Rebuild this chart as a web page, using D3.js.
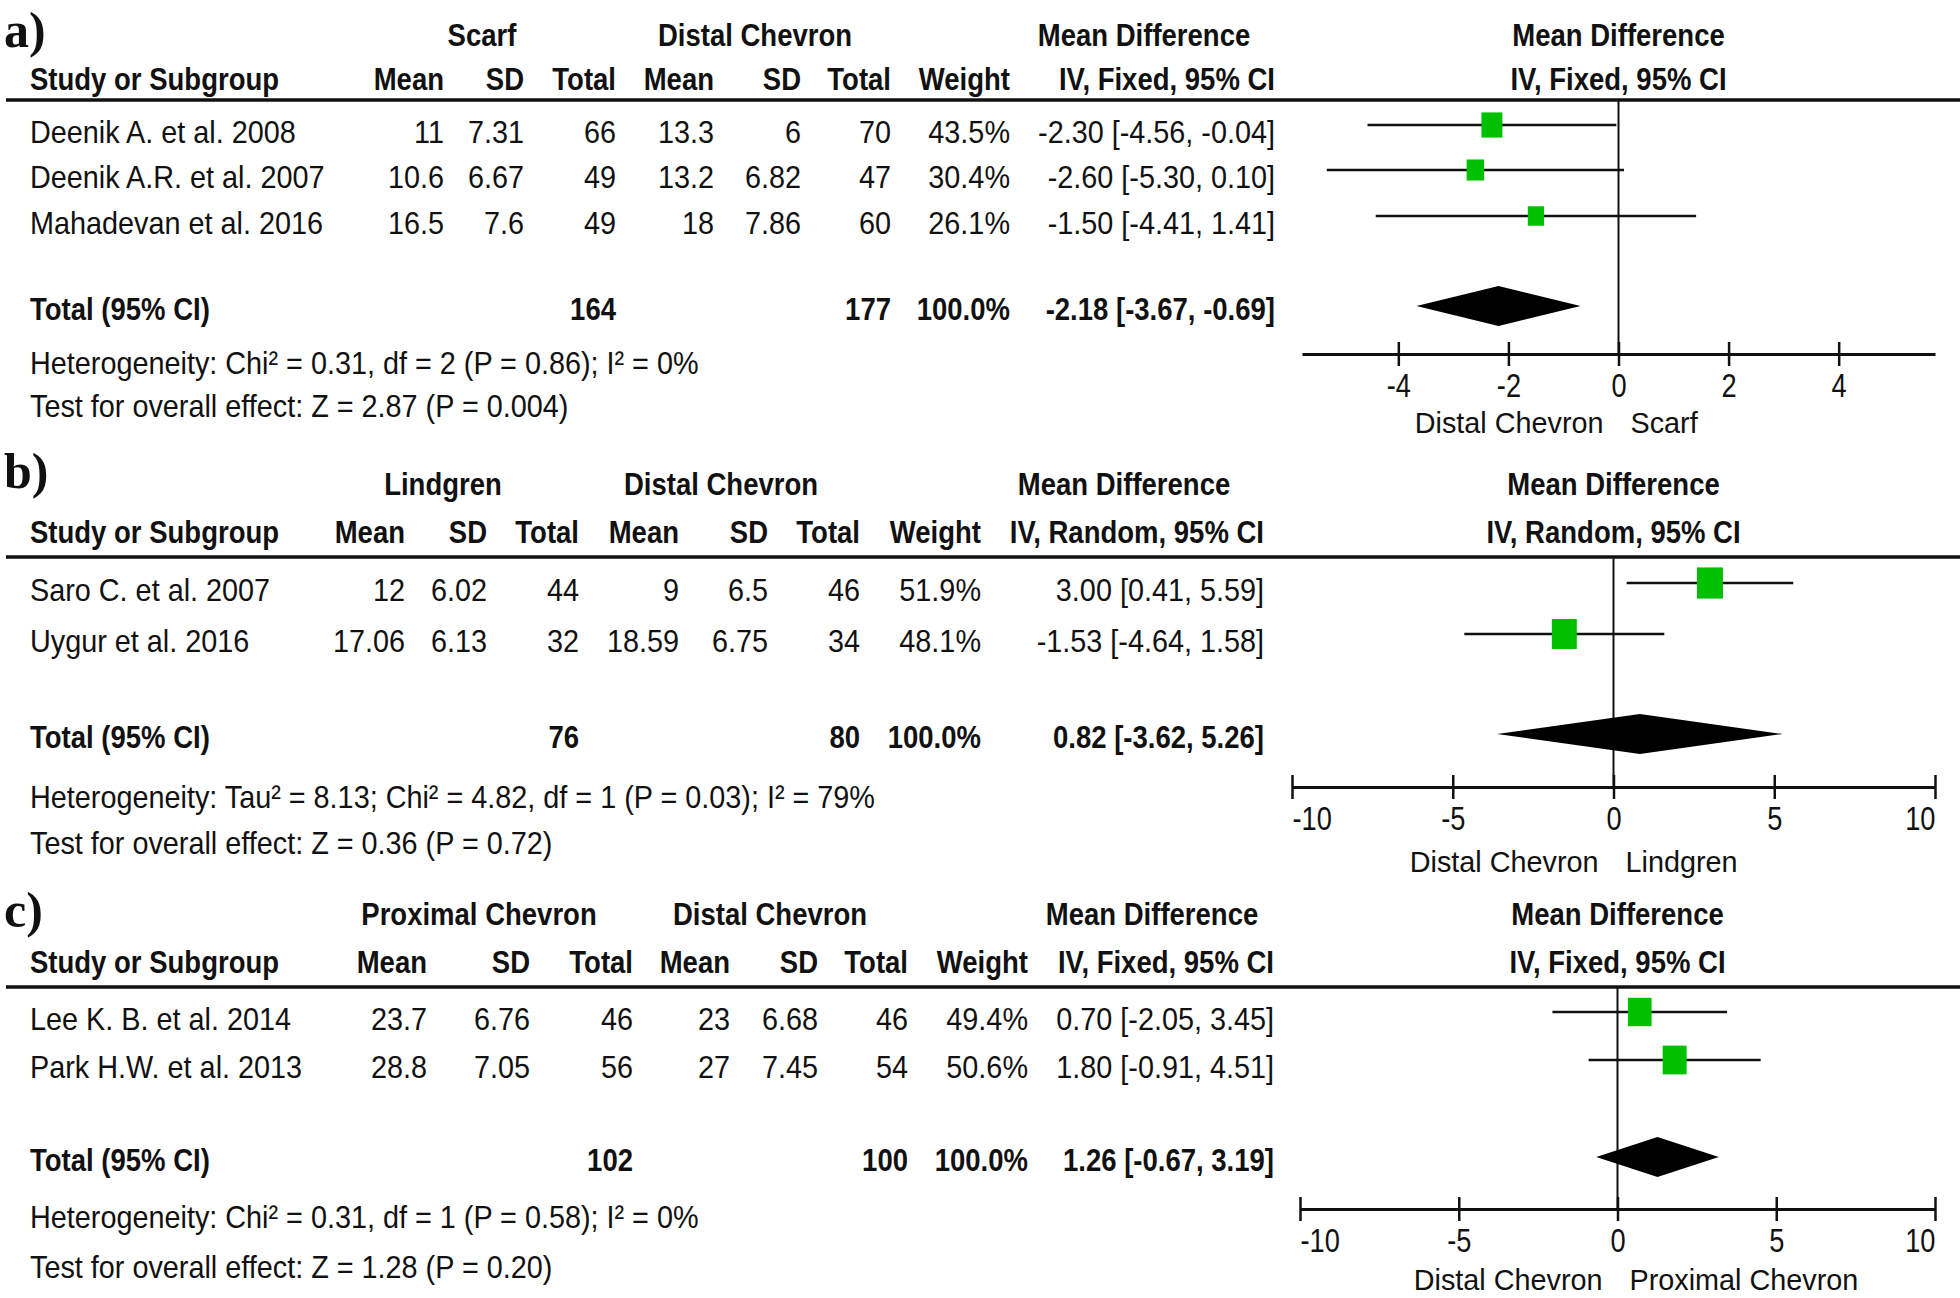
<!DOCTYPE html>
<html><head><meta charset="utf-8">
<script src="https://cdn.jsdelivr.net/npm/d3@7"></script>
<style>body{margin:0;background:#fff}svg{display:block;background:#fff}</style>
</head><body>
<svg id="chart" width="1960" height="1298"></svg>
<script>
// ---------- DATA ----------
// Panel a
const tagA = "a)";
const groupsA = ["Scarf", "Distal Chevron"];
const methodA = "IV, Fixed, 95% CI";
const studiesA = ["Deenik A. et al. 2008", "Deenik A.R. et al. 2007", "Mahadevan et al. 2016"];
const expMeanA = [11, 10.6, 16.5];
const expSdA = [7.31, 6.67, 7.6];
const expNA = [66, 49, 49];
const ctlMeanA = [13.3, 13.2, 18];
const ctlSdA = [6, 6.82, 7.86];
const ctlNA = [70, 47, 60];
const weightA = [43.5, 30.4, 26.1];
const mdA = [-2.30, -2.60, -1.50];
const loA = [-4.56, -5.30, -4.41];
const hiA = [-0.04, 0.10, 1.41];
const totalsA = [164, 177];
const pooledA = [-2.18, -3.67, -0.69];
const heteroA = "Heterogeneity: Chi\u00B2 = 0.31, df = 2 (P = 0.86); I\u00B2 = 0%";
const testA = "Test for overall effect: Z = 2.87 (P = 0.004)";
const domainA = [-5.75, 5.75];
const ticksA = [-4, -2, 0, 2, 4];
const axisLabelsA = ["Distal Chevron", "Scarf"];

// Panel b
const tagB = "b)";
const groupsB = ["Lindgren", "Distal Chevron"];
const methodB = "IV, Random, 95% CI";
const studiesB = ["Saro C. et al. 2007", "Uygur et al. 2016"];
const expMeanB = [12, 17.06];
const expSdB = [6.02, 6.13];
const expNB = [44, 32];
const ctlMeanB = [9, 18.59];
const ctlSdB = [6.5, 6.75];
const ctlNB = [46, 34];
const weightB = [51.9, 48.1];
const mdB = [3.00, -1.53];
const loB = [0.41, -4.64];
const hiB = [5.59, 1.58];
const totalsB = [76, 80];
const pooledB = [0.82, -3.62, 5.26];
const heteroB = "Heterogeneity: Tau\u00B2 = 8.13; Chi\u00B2 = 4.82, df = 1 (P = 0.03); I\u00B2 = 79%";
const testB = "Test for overall effect: Z = 0.36 (P = 0.72)";
const domainB = [-10, 10];
const ticksB = [-10, -5, 0, 5, 10];
const axisLabelsB = ["Distal Chevron", "Lindgren"];

// Panel c
const tagC = "c)";
const groupsC = ["Proximal Chevron", "Distal Chevron"];
const methodC = "IV, Fixed, 95% CI";
const studiesC = ["Lee K. B. et al. 2014", "Park H.W. et al. 2013"];
const expMeanC = [23.7, 28.8];
const expSdC = [6.76, 7.05];
const expNC = [46, 56];
const ctlMeanC = [23, 27];
const ctlSdC = [6.68, 7.45];
const ctlNC = [46, 54];
const weightC = [49.4, 50.6];
const mdC = [0.70, 1.80];
const loC = [-2.05, -0.91];
const hiC = [3.45, 4.51];
const totalsC = [102, 100];
const pooledC = [1.26, -0.67, 3.19];
const heteroC = "Heterogeneity: Chi\u00B2 = 0.31, df = 1 (P = 0.58); I\u00B2 = 0%";
const testC = "Test for overall effect: Z = 1.28 (P = 0.20)";
const domainC = [-10, 10];
const ticksC = [-10, -5, 0, 5, 10];
const axisLabelsC = ["Distal Chevron", "Proximal Chevron"];

// ---------- ASSEMBLE ----------
function makePanel(tag, groups, method, studies, em, es, en, cm, cs, cn, w, md, lo, hi, totals, pooled, hetero, test, domain, ticks, axisLabels) {
  return {tag, groups, method, hetero, test, domain, ticks, axisLabels, totals, pooled,
    rows: studies.map((s, i) => ({study: s, em: em[i], es: es[i], en: en[i], cm: cm[i], cs: cs[i], cn: cn[i], w: w[i], md: md[i], lo: lo[i], hi: hi[i]}))};
}
const panels = [
  makePanel(tagA, groupsA, methodA, studiesA, expMeanA, expSdA, expNA, ctlMeanA, ctlSdA, ctlNA, weightA, mdA, loA, hiA, totalsA, pooledA, heteroA, testA, domainA, ticksA, axisLabelsA),
  makePanel(tagB, groupsB, methodB, studiesB, expMeanB, expSdB, expNB, ctlMeanB, ctlSdB, ctlNB, weightB, mdB, loB, hiB, totalsB, pooledB, heteroB, testB, domainB, ticksB, axisLabelsB),
  makePanel(tagC, groupsC, methodC, studiesC, expMeanC, expSdC, expNC, ctlMeanC, ctlSdC, ctlNC, weightC, mdC, loC, hiC, totalsC, pooledC, heteroC, testC, domainC, ticksC, axisLabelsC)
];

// ---------- LAYOUT ----------
const layouts = [
  {tagY: 47, h1: 46, h2: 90, rule: 100, rows: [143, 188, 234], total: 320, hetero: 374, test: 417,
   groupX: [482, 755, 1144], cols: [444, 524, 616, 714, 801, 891, 1010, 1275],
   range: [1302, 1935], axisY: 354, bottomY: 433, sqMax: 31.8},
  {tagY: 488, h1: 495, h2: 543, rule: 557, rows: [601, 652], total: 748, hetero: 808, test: 854,
   groupX: [443, 721, 1124], cols: [405, 487, 579, 679, 768, 860, 981, 1264],
   range: [1292, 1935], axisY: 787, bottomY: 872, sqMax: 36},
  {tagY: 927, h1: 925, h2: 973, rule: 987, rows: [1030, 1078], total: 1171, hetero: 1228, test: 1278,
   groupX: [479, 770, 1152], cols: [427, 530, 633, 730, 818, 908, 1028, 1274],
   range: [1300, 1935], axisY: 1209, bottomY: 1290, sqMax: 33.7}
];

const SANS = "'Liberation Sans', Arial, Helvetica, sans-serif";
const SERIF = "'Liberation Serif', 'Times New Roman', serif";
const INK = "#111";
const GREEN = "#00c000";

const svg = d3.select("#chart");
svg.append("rect").attr("width", 1960).attr("height", 1298).attr("fill", "#fff");

function label(g, x, y, s, o = {}) {
  const sx = o.sx ?? (o.bold ? 0.86 : 0.9);
  return g.append("text")
    .attr("transform", `translate(${x},${y}) scale(${sx},1)`)
    .attr("text-anchor", o.anchor || "start")
    .attr("font-family", o.serif ? SERIF : SANS)
    .attr("font-size", o.size || 32)
    .attr("font-weight", o.bold ? "bold" : "normal")
    .attr("fill", INK)
    .text(s);
}
const ci = (m, l, h) => `${m.toFixed(2)} [${l.toFixed(2)}, ${h.toFixed(2)}]`;

panels.forEach((d, pi) => {
  const L = layouts[pi];
  const g = svg.append("g");
  const x = d3.scaleLinear().domain(d.domain).range(L.range);
  const sq = d3.scaleSqrt().domain([0, 100]).range([0, L.sqMax]);

  label(g, 4, L.tagY, d.tag, {serif: true, bold: true, size: 50, sx: 1});

  // header row 1
  label(g, L.groupX[0], L.h1, d.groups[0], {anchor: "middle", bold: true});
  label(g, L.groupX[1], L.h1, d.groups[1], {anchor: "middle", bold: true});
  label(g, L.groupX[2], L.h1, "Mean Difference", {anchor: "middle", bold: true});
  label(g, x(0), L.h1, "Mean Difference", {anchor: "middle", bold: true});

  // header row 2
  label(g, 30, L.h2, "Study or Subgroup", {bold: true});
  ["Mean", "SD", "Total", "Mean", "SD", "Total", "Weight", d.method]
    .forEach((h, i) => label(g, L.cols[i], L.h2, h, {anchor: "end", bold: true}));
  label(g, x(0), L.h2, d.method, {anchor: "middle", bold: true});

  // rule
  g.append("line").attr("x1", 6).attr("x2", 1960).attr("y1", L.rule).attr("y2", L.rule)
    .attr("stroke", INK).attr("stroke-width", 3.5);

  // zero line
  g.append("line").attr("x1", x(0)).attr("x2", x(0)).attr("y1", L.rule).attr("y2", L.axisY)
    .attr("stroke", INK).attr("stroke-width", 2);

  // study rows
  d.rows.forEach((r, i) => {
    const y = L.rows[i];
    label(g, 30, y, r.study);
    const vals = [r.em, r.es, r.en, r.cm, r.cs, r.cn].map(String)
      .concat([r.w.toFixed(1) + "%", ci(r.md, r.lo, r.hi)]);
    vals.forEach((v, k) => label(g, L.cols[k], y, v, {anchor: "end"}));
    const my = y - 18;
    g.append("line").attr("x1", x(r.lo)).attr("x2", x(r.hi)).attr("y1", my).attr("y2", my)
      .attr("stroke", INK).attr("stroke-width", 2.5);
    const w = sq(r.w), h = w * 1.2;
    g.append("rect").attr("x", x(r.md) - w / 2).attr("y", my - h / 2)
      .attr("width", w).attr("height", h).attr("fill", GREEN);
  });

  // total row
  label(g, 30, L.total, "Total (95% CI)", {bold: true});
  label(g, L.cols[2], L.total, String(d.totals[0]), {anchor: "end", bold: true});
  label(g, L.cols[5], L.total, String(d.totals[1]), {anchor: "end", bold: true});
  label(g, L.cols[6], L.total, (100).toFixed(1) + "%", {anchor: "end", bold: true});
  label(g, L.cols[7], L.total, ci(d.pooled[0], d.pooled[1], d.pooled[2]), {anchor: "end", bold: true});
  const dy = L.total - 14, dh = 20;
  g.append("path")
    .attr("d", `M${x(d.pooled[1])},${dy} L${x(d.pooled[0])},${dy - dh} L${x(d.pooled[2])},${dy} L${x(d.pooled[0])},${dy + dh} Z`)
    .attr("fill", "#000");

  label(g, 30, L.hetero, d.hetero);
  label(g, 30, L.test, d.test);

  // axis
  const axis = d3.axisBottom(x).tickValues(d.ticks).tickSize(12).tickSizeOuter(0).tickFormat(t => String(t));
  const ag = g.append("g").attr("transform", `translate(0,${L.axisY})`).call(axis)
    .attr("font-size", null).attr("font-family", null);
  ag.select(".domain").attr("stroke", INK).attr("stroke-width", 3);
  ag.selectAll(".tick line").attr("y1", -12).attr("y2", 12).attr("stroke", INK).attr("stroke-width", 2.5);
  ag.selectAll(".tick text")
    .attr("y", 43).attr("dy", null)
    .attr("font-size", 34).attr("font-family", SANS).attr("fill", INK)
    .attr("transform", "scale(0.8,1)")
    .attr("text-anchor", t => t === d.domain[0] ? "start" : t === d.domain[1] ? "end" : "middle");

  label(g, x(0) - 15, L.bottomY, d.axisLabels[0], {anchor: "end", size: 30, sx: 0.96});
  label(g, x(0) + 12, L.bottomY, d.axisLabels[1], {size: 30, sx: 0.96});
});
</script>
</body></html>
